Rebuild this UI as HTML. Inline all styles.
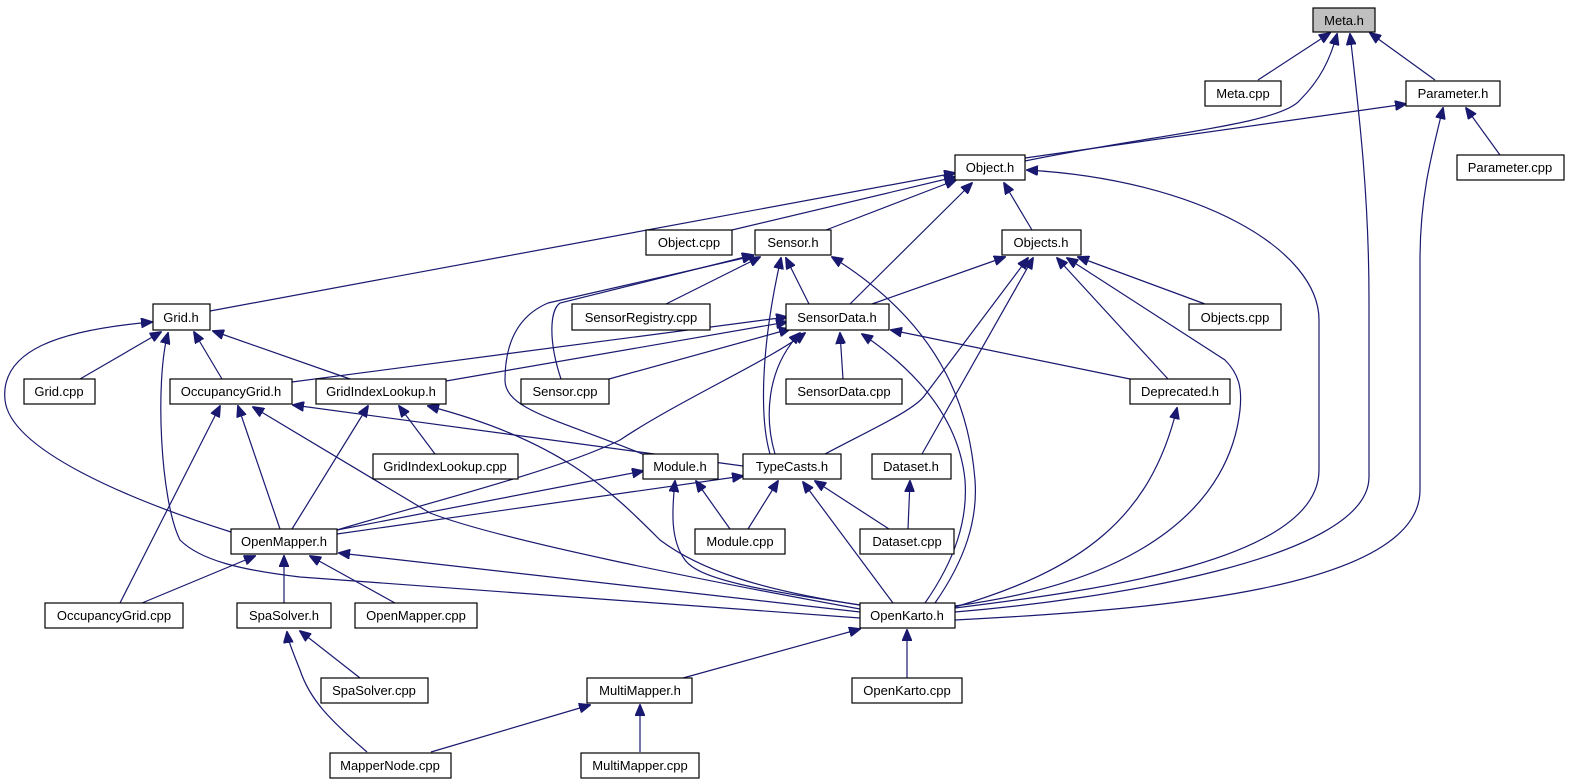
<!DOCTYPE html>
<html><head><meta charset="utf-8"><style>
html,body{margin:0;padding:0;background:#fff;}
svg{display:block}
text{font-family:"Liberation Sans",sans-serif;font-size:13px;fill:#000;}
.e{fill:none;stroke:#191970;stroke-width:1.2;marker-end:url(#a);}
.n{fill:#fff;stroke:#000;stroke-width:1.2;}
</style></head><body>
<svg width="1570" height="784" viewBox="0 0 1570 784" xmlns="http://www.w3.org/2000/svg">
<defs><marker id="a" markerUnits="userSpaceOnUse" markerWidth="12" markerHeight="10" refX="11" refY="5" orient="auto"><path d="M0,0 L12,5 L0,10 z" fill="#191970" stroke="#191970"/></marker></defs>
<g>
<!-- Meta.h -->
<path class="e" d="M1258,80 L1330,33"/>
<path class="e" d="M1435,80 L1370,33"/>
<path class="e" d="M1025,161 C1150,135 1280,125 1300,100 C1320,80 1330,60 1337,34"/>
<path class="e" d="M955,612 C1100,600 1369,560 1369,477 L1369,300 C1369,200 1360,120 1350,34"/>
<!-- Parameter.h -->
<path class="e" d="M1025,158 L1406,104"/>
<path class="e" d="M1500,155 L1466,108"/>
<path class="e" d="M955,620 C1150,610 1420,590 1420,490 L1420,260 C1420,200 1430,160 1443,108"/>
<!-- Object.h -->
<path class="e" d="M210,311 L955,173"/>
<path class="e" d="M732,230 L955,177"/>
<path class="e" d="M826,230 L956,180"/>
<path class="e" d="M850,304 L972,183"/>
<path class="e" d="M1032,230 L1004,183"/>
<path class="e" d="M955,608 C1100,590 1319,560 1319,470 L1319,320 C1319,250 1200,180 1027,170"/>
<!-- Sensor.h -->
<path class="e" d="M666,304 L760,257"/>
<path class="e" d="M561,379 C548,340 550,310 560,303 L753,255"/>
<path class="e" d="M645,455 C560,420 505,410 505,380 C505,340 520,315 548,303 L753,256"/>
<path class="e" d="M809,304 L786,258"/>
<path class="e" d="M770,454 C760,420 760,350 781,258"/>
<path class="e" d="M935,603 C965,560 978,520 975,480 C970,420 950,330 832,257"/>
<!-- Objects.h -->
<path class="e" d="M872,304 L1005,257"/>
<path class="e" d="M825,454 C870,430 915,410 925,395 L1028,258"/>
<path class="e" d="M922,454 L1033,258"/>
<path class="e" d="M1168,379 L1057,258"/>
<path class="e" d="M955,606 C1150,580 1230,500 1240,410 C1242,390 1240,375 1225,360 L1067,258"/>
<path class="e" d="M1205,304 L1078,257"/>
<!-- SensorData.h -->
<path class="e" d="M292,382 L787,317"/>
<path class="e" d="M446,381 L787,322"/>
<path class="e" d="M609,379 L790,329"/>
<path class="e" d="M843,379 L840,333"/>
<path class="e" d="M1130,379 L891,330"/>
<path class="e" d="M337,530 C420,505 560,470 620,440 C680,400 770,360 805,333"/>
<path class="e" d="M775,454 C765,420 765,370 800,333"/>
<path class="e" d="M925,603 C955,560 968,520 965,480 C960,430 930,380 862,334"/>
<!-- Grid.h -->
<path class="e" d="M80,379 L161,332"/>
<path class="e" d="M222,379 L194,332"/>
<path class="e" d="M350,379 L213,331"/>
<path class="e" d="M231,532 C130,500 10,450 5,400 C0,350 60,330 152,322"/>
<path class="e" d="M860,618 L300,577 C240,570 200,560 180,540 C160,500 155,380 168,333"/>
<!-- OccupancyGrid.h -->
<path class="e" d="M743,466 L293,405"/>
<path class="e" d="M120,603 L220,406"/>
<path class="e" d="M280,529 L238,406"/>
<path class="e" d="M860,609 C700,580 500,540 430,513 L253,407"/>
<!-- GridIndexLookup.h -->
<path class="e" d="M292,529 L368,406"/>
<path class="e" d="M435,454 L399,406"/>
<path class="e" d="M860,605 C760,590 700,570 660,540 C610,490 560,440 428,406"/>
<!-- Module.h -->
<path class="e" d="M337,530 L643,471"/>
<path class="e" d="M730,529 L696,481"/>
<path class="e" d="M860,605 C760,590 700,580 685,560 C670,540 672,510 675,481"/>
<!-- TypeCasts.h -->
<path class="e" d="M337,534 L743,476"/>
<path class="e" d="M748,529 L778,481"/>
<path class="e" d="M889,529 L815,481"/>
<path class="e" d="M893,603 L803,482"/>
<!-- Dataset.h -->
<path class="e" d="M908,529 L910,481"/>
<!-- Deprecated.h -->
<path class="e" d="M955,607 C1080,570 1150,520 1177,408"/>
<!-- OpenMapper.h -->
<path class="e" d="M142,603 L255,556"/>
<path class="e" d="M284,603 L284,556"/>
<path class="e" d="M395,603 L310,556"/>
<path class="e" d="M860,612 L339,553"/>
<!-- SpaSolver.h -->
<path class="e" d="M360,678 L300,631"/>
<path class="e" d="M367,752 C330,720 310,700 300,670 C292,650 288,640 287,632"/>
<!-- OpenKarto.h -->
<path class="e" d="M683,678 L860,629"/>
<path class="e" d="M907,678 L907,630"/>
<!-- MultiMapper.h -->
<path class="e" d="M431,752 L590,705"/>
<path class="e" d="M640,752 L640,705"/>
</g>
<g text-anchor="middle">
<rect x="1313" y="8" width="62" height="24" style="fill:#bfbfbf;stroke:#000;stroke-width:1.2"/><text x="1344" y="25">Meta.h</text>
<rect class="n" x="1205" y="81" width="76" height="25"/><text x="1243" y="98">Meta.cpp</text>
<rect class="n" x="1406" y="81" width="94" height="25"/><text x="1453" y="98">Parameter.h</text>
<rect class="n" x="955" y="155" width="70" height="25"/><text x="990" y="172">Object.h</text>
<rect class="n" x="1457" y="155" width="107" height="25"/><text x="1510" y="172">Parameter.cpp</text>
<rect class="n" x="646" y="230" width="86" height="25"/><text x="689" y="247">Object.cpp</text>
<rect class="n" x="755" y="230" width="76" height="25"/><text x="793" y="247">Sensor.h</text>
<rect class="n" x="1002" y="230" width="79" height="25"/><text x="1041" y="247">Objects.h</text>
<rect class="n" x="153" y="304" width="57" height="26"/><text x="181" y="322">Grid.h</text>
<rect class="n" x="572" y="304" width="138" height="26"/><text x="641" y="322">SensorRegistry.cpp</text>
<rect class="n" x="786" y="304" width="103" height="26"/><text x="837" y="322">SensorData.h</text>
<rect class="n" x="1189" y="304" width="92" height="26"/><text x="1235" y="322">Objects.cpp</text>
<rect class="n" x="24" y="379" width="71" height="25"/><text x="59" y="396">Grid.cpp</text>
<rect class="n" x="170" y="379" width="122" height="25"/><text x="231" y="396">OccupancyGrid.h</text>
<rect class="n" x="316" y="379" width="130" height="25"/><text x="381" y="396">GridIndexLookup.h</text>
<rect class="n" x="521" y="379" width="88" height="25"/><text x="565" y="396">Sensor.cpp</text>
<rect class="n" x="786" y="379" width="116" height="25"/><text x="844" y="396">SensorData.cpp</text>
<rect class="n" x="1130" y="379" width="100" height="25"/><text x="1180" y="396">Deprecated.h</text>
<rect class="n" x="373" y="454" width="145" height="25"/><text x="445" y="471">GridIndexLookup.cpp</text>
<rect class="n" x="643" y="454" width="75" height="25"/><text x="680" y="471">Module.h</text>
<rect class="n" x="743" y="454" width="98" height="25"/><text x="792" y="471">TypeCasts.h</text>
<rect class="n" x="872" y="454" width="79" height="25"/><text x="911" y="471">Dataset.h</text>
<rect class="n" x="231" y="529" width="106" height="25"/><text x="284" y="546">OpenMapper.h</text>
<rect class="n" x="695" y="529" width="90" height="25"/><text x="740" y="546">Module.cpp</text>
<rect class="n" x="860" y="529" width="94" height="25"/><text x="907" y="546">Dataset.cpp</text>
<rect class="n" x="45" y="603" width="138" height="25"/><text x="114" y="620">OccupancyGrid.cpp</text>
<rect class="n" x="237" y="603" width="94" height="25"/><text x="284" y="620">SpaSolver.h</text>
<rect class="n" x="355" y="603" width="122" height="25"/><text x="416" y="620">OpenMapper.cpp</text>
<rect class="n" x="860" y="603" width="95" height="25"/><text x="907" y="620">OpenKarto.h</text>
<rect class="n" x="321" y="678" width="107" height="25"/><text x="374" y="695">SpaSolver.cpp</text>
<rect class="n" x="587" y="678" width="105" height="25"/><text x="640" y="695">MultiMapper.h</text>
<rect class="n" x="852" y="678" width="110" height="25"/><text x="907" y="695">OpenKarto.cpp</text>
<rect class="n" x="330" y="753" width="121" height="25"/><text x="390" y="770">MapperNode.cpp</text>
<rect class="n" x="581" y="753" width="118" height="25"/><text x="640" y="770">MultiMapper.cpp</text>
</g>
</svg>
</body></html>
